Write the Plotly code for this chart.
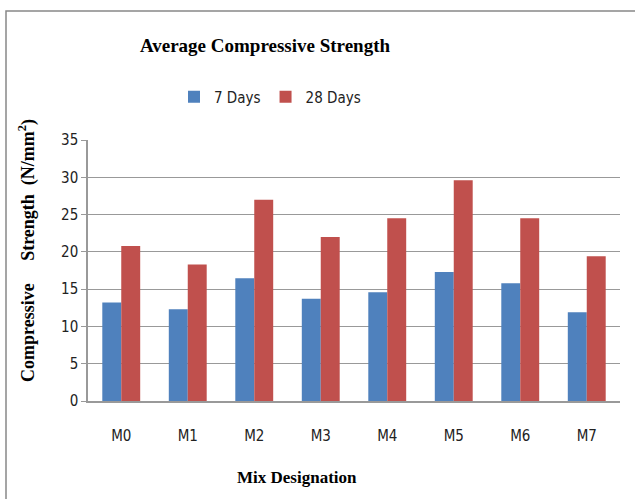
import plotly.graph_objects as go

categories = ["M0", "M1", "M2", "M3", "M4", "M5", "M6", "M7"]
days7 = [13.2, 12.3, 16.45, 13.7, 14.6, 17.3, 15.8, 11.9]
days28 = [20.8, 18.3, 27.0, 22.0, 24.5, 29.6, 24.5, 19.4]
y_ticks = [0, 5, 10, 15, 20, 25, 30, 35]

W, H = 635, 499
L, R, T, B = 88, 15, 140, 98
PW, PH = W - L - R, H - T - B

sans = "DejaVu Sans Condensed, Liberation Sans Narrow, Arial"
serif = "Liberation Serif, Times New Roman, serif"
tick_font = dict(family=sans, size=15, color="#222")

fig = go.Figure()
fig.add_trace(go.Bar(x=categories, y=days7, name="7 Days", marker=dict(color="#4F81BD", line=dict(width=0))))
fig.add_trace(go.Bar(x=categories, y=days28, name="28 Days", marker=dict(color="#C0504D", line=dict(width=0))))

fig.update_layout(
    width=W, height=H,
    paper_bgcolor="white", plot_bgcolor="white",
    margin=dict(l=L, r=R, t=T, b=B, autoexpand=False),
    barmode="group", bargap=0.43, bargroupgap=0,
    showlegend=True,
    legend=dict(orientation="h", x=270 / W, xanchor="center", y=1 - 97 / H, yref="container",
                yanchor="middle", xref="container",
                font=dict(family=sans, size=15, color="#222"), traceorder="normal",
                itemwidth=30, tracegroupgap=0),
    title=dict(text="<b>Average Compressive Strength</b>", x=265 / W, xanchor="center", xref="container",
               y=1 - 45 / H, yref="container", yanchor="middle",
               font=dict(family=serif, size=19, color="#000")),
    xaxis=dict(showline=True, linecolor="#999", linewidth=1.5, ticks="", showgrid=False,
               tickfont=tick_font, ticklabelstandoff=20, automargin=False,
               title=dict(text="")),
    yaxis=dict(range=[0, 35], tickvals=y_ticks, showline=True, linecolor="#999", linewidth=1.5,
               ticks="outside", ticklen=5, tickcolor="#999", automargin=False,
               gridcolor="#999", gridwidth=1.2, zeroline=False, tickfont=tick_font,
               title=dict(text="")),
    annotations=[
        dict(text="<b>Compressive&nbsp;&nbsp;&nbsp;&nbsp;&nbsp;Strength&nbsp;&nbsp;(N/mm<sup>2</sup>)</b>",
             xref="paper", yref="paper", x=(27 - L) / PW, y=(H - B - 251) / PH,
             xanchor="center", yanchor="middle", textangle=-90, showarrow=False,
             font=dict(family=serif, size=18, color="#000")),
        dict(text="<b>Mix Designation</b>", xref="paper", yref="paper",
             x=(297 - L) / PW, y=(H - B - 477) / PH, xanchor="center", yanchor="middle",
             showarrow=False, font=dict(family=serif, size=17, color="#000")),
    ],
    shapes=[dict(type="rect", xref="paper", yref="paper", x0=(6 - L) / PW, x1=1.2, y0=-0.5,
                 y1=(H - B - 11) / PH,
                 line=dict(color="#888", width=1.5), fillcolor="rgba(0,0,0,0)", layer="below")],
)

fig.write_html("out.html", config={"displayModeBar": False},
               post_script="document.body.style.margin='0';")
